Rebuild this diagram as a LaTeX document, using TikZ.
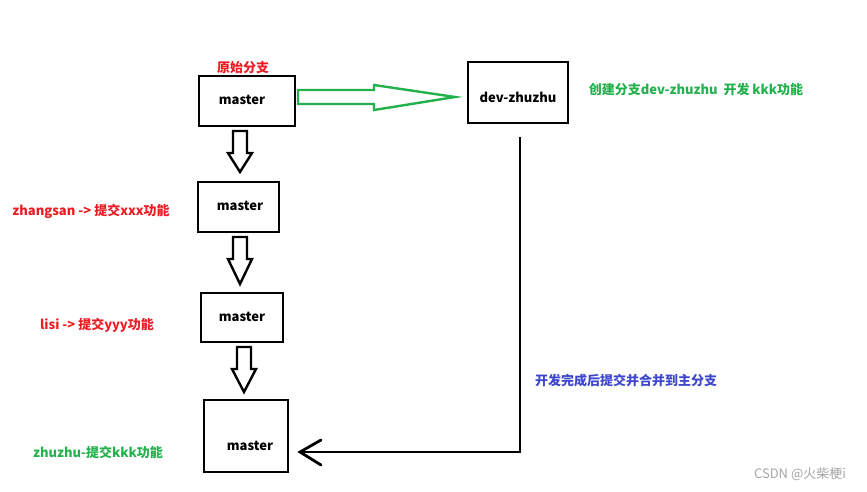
\documentclass[tikz,border=0pt]{standalone}
\usepackage{fontspec}
\setmainfont{Noto Sans CJK SC}
\begin{document}
\begin{tikzpicture}[x=1pt,y=-1pt,
 box/.style={draw,line width=2.5pt},
 lbl/.style={font=\bfseries\fontsize{13}{15}\selectfont,anchor=center},
 harrow/.style={line width=2.4pt,line join=miter}]
\useasboundingbox (0,0) rectangle (867,491);
\fill[white] (0,0) rectangle (867,491);
\draw[box] (199,76) rectangle (295,126); \node[lbl] (m1) at (242,100) {master};
\draw[box] (468,62) rectangle (568,123); \node[lbl] (dev) at (518,97) {dev-zhuzhu};
\draw[box] (198,182) rectangle (279,232); \node[lbl] (m2) at (240,206) {master};
\draw[box] (201,293) rectangle (283,342); \node[lbl] (m3) at (242,317) {master};
\draw[box] (204,400) rectangle (288,472); \node[lbl] (m4) at (250,446) {master};
\node[lbl,text={rgb,255:red,237;green,28;blue,36}] (t0) at (243,68) {原始分支};
\node[lbl,text={rgb,255:red,34;green,177;blue,76}] (t1) at (696,90) {创建分支dev-zhuzhu\ \ 开发 kkk功能};
\node[lbl,text={rgb,255:red,237;green,28;blue,36}] (t2) at (91,211) {zhangsan -> 提交xxx功能};
\node[lbl,text={rgb,255:red,237;green,28;blue,36}] (t3) at (97,325) {lisi -> 提交yyy功能};
\node[lbl,text={rgb,255:red,34;green,177;blue,76}] (t4) at (98,452) {zhuzhu-提交kkk功能};
\node[lbl,text={rgb,255:red,63;green,72;blue,204}] (t5) at (626,381) {开发完成后提交并合并到主分支};
\node[font=\fontsize{13}{15}\selectfont,text=gray!70] (wm) at (800,474) {CSDN @火柴梗i};
% green arrow
\draw[harrow,draw={rgb,255:red,34;green,177;blue,76}] (298,90)--(374,90)--(374,85)--(455,97)--(374,110)--(374,104)--(298,104)--cycle;
% down arrows
\foreach \x/\a/\b in {240/131/172, 240/237/284, 244/347/392}{
 \draw[harrow] (\x-7,\a)--(\x+7,\a)--(\x+7,\a+22)--(\x+12,\a+22)--(\x,\b)--(\x-12,\a+22)--(\x-7,\a+22)--cycle;}
% merge line
\coordinate (c1) at (520,137); \coordinate (c2) at (520,452); \coordinate (c3) at (300,452);
\draw[line width=2.8pt] (c1)--(c2)--(c3);
\draw[line width=2.8pt,line cap=round] (321,440)--(c3)--(321,465);
\end{tikzpicture}
\end{document}
